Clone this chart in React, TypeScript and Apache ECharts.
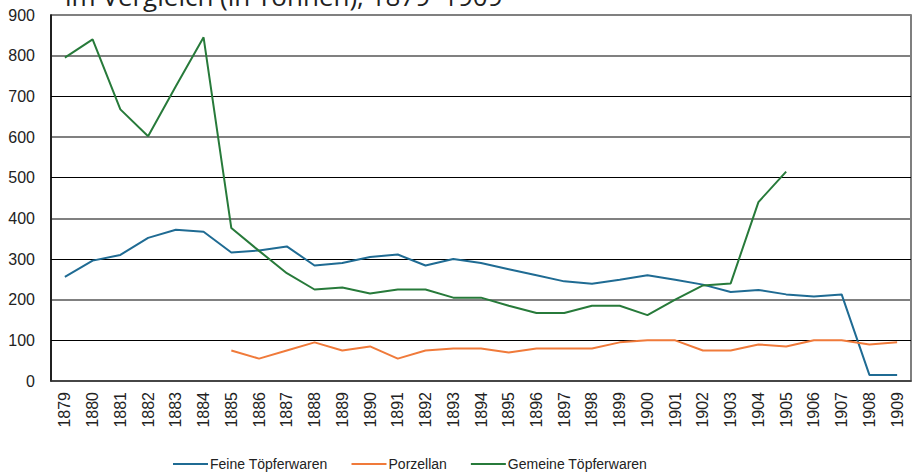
import React, { useEffect, useRef } from "react";
import * as echarts from "echarts";

const years = [
  "1879", "1880", "1881", "1882", "1883", "1884", "1885", "1886", "1887", "1888",
  "1889", "1890", "1891", "1892", "1893", "1894", "1895", "1896", "1897", "1898",
  "1899", "1900", "1901", "1902", "1903", "1904", "1905", "1906", "1907", "1908", "1909",
];

const feine: (number | null)[] = [
  256, 296, 310, 352, 372, 367, 316, 321, 331, 284,
  290, 305, 311, 284, 300, 290, 275, 260, 245, 239,
  249, 260, 249, 237, 219, 224, 213, 208, 213, 15, 15,
];

const porzellan: (number | null)[] = [
  null, null, null, null, null, null, 75, 55, 75, 95,
  75, 85, 55, 75, 80, 80, 70, 80, 80, 80,
  95, 100, 100, 75, 75, 90, 85, 100, 100, 90, 95,
];

const gemeine: (number | null)[] = [
  795, 840, 668, 602, 725, 845, 376, 320, 265, 225,
  230, 215, 225, 225, 205, 205, 185, 167, 167, 185,
  185, 162, 200, 235, 240, 440, 515, null, null, null, null,
];

const seriesNames = ["Feine Töpferwaren", "Porzellan", "Gemeine Töpferwaren"];
const seriesColors = ["#1f6b93", "#f07a3a", "#277a3a"];
const titleText = "im Vergleich (in Tonnen), 1879–1909";

export default function App() {
  const ref = useRef<HTMLDivElement>(null);
  useEffect(() => {
    if (!ref.current) return;
    const chart = echarts.init(ref.current, null, { renderer: "svg" });
    const font = "'Liberation Sans', Arial, sans-serif";
    const data = [feine, porzellan, gemeine];
    chart.setOption({
      animation: false,
      backgroundColor: "#ffffff",
      grid: {
        left: 51,
        right: 4,
        top: 15,
        bottom: 92,
        show: true,
        borderColor: "#555555",
        borderWidth: 1.5,
        containLabel: false,
      },
      graphic: [
        {
          type: "text",
          left: 65,
          top: -17,
          style: {
            text: titleText,
            font: "26px 'Open Sans', 'Noto Sans', sans-serif",
            fill: "#222222",
          },
        },
      ],
      legend: {
        left: 168,
        top: 452,
        itemWidth: 35,
        itemHeight: 2,
        itemGap: 24,
        icon: "rect",
        textStyle: { fontFamily: font, fontSize: 14, color: "#222", padding: [0, 0, 0, -3] },
        data: seriesNames,
      },
      xAxis: {
        type: "category",
        data: years,
        boundaryGap: true,
        axisLine: { show: true, lineStyle: { color: "#333", width: 1.5 } },
        axisTick: { show: false },
        axisLabel: {
          rotate: 90,
          margin: 11,
          interval: 0,
          fontFamily: font,
          fontSize: 16,
          color: "#222",
        },
      },
      yAxis: [
        {
          type: "value",
          min: 0,
          max: 900,
          interval: 100,
          axisLine: { show: true, lineStyle: { color: "#000", width: 1.5 } },
          axisTick: { show: false },
          axisLabel: {
            margin: 16,
            fontFamily: font,
            fontSize: 16,
            color: "#222",
          },
          splitLine: {
            show: true,
            lineStyle: { color: ["#808080", "#000000"], width: 1 },
          },
        },
        {
          type: "value",
          min: 0,
          max: 900,
          interval: 200,
          position: "left",
          axisLine: { show: false },
          axisTick: { show: false },
          axisLabel: { show: false },
          splitLine: { show: true, lineStyle: { color: "#808080", width: 2 } },
        },
      ],
      series: seriesNames.map((name, i) => ({
        name,
        type: "line",
        data: data[i],
        yAxisIndex: 0,
        symbol: "none",
        connectNulls: false,
        lineStyle: { color: seriesColors[i], width: 2 },
        itemStyle: { color: seriesColors[i] },
        z: 3,
      })),
    });
    return () => chart.dispose();
  }, []);
  return <div ref={ref} style={{ width: 915, height: 473, position: "absolute", left: 0, top: 0 }} />;
}
